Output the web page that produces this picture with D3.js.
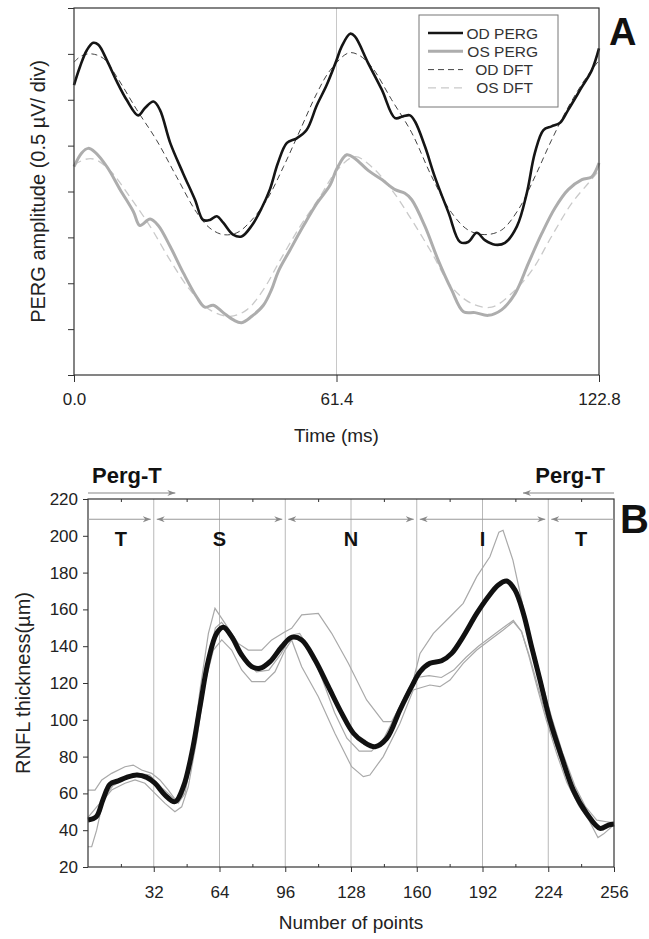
<!DOCTYPE html>
<html>
<head>
<meta charset="utf-8">
<script src="https://cdn.jsdelivr.net/npm/d3@7/dist/d3.min.js"></script>
<style>
  body { margin: 0; background: #fff; }
  svg { display: block; font-family: "Liberation Sans", Arial, sans-serif; }
  .tick text { fill: #222; }
</style>
</head>
<body>
<svg id="chart" width="649" height="939"></svg>
<script>
// ---- panel A data : time (ms), amplitude (uV, 0.5 uV per division)
var xTicksA = [0, 61.4, 122.8];
var yDivsA = [0, 0.5, 1, 1.5, 2, 2.5, 3, 3.5, 4];

var odPerg = [[0,3.16],[1.4,3.36],[3.0,3.54],[4.5,3.62],[5.7,3.60],[7.7,3.43],[10.0,3.20],[12.3,3.00],[15.0,2.83],[16.6,2.91],[18.6,2.98],[20.1,2.89],[22.5,2.53],[25.5,2.20],[28.3,1.91],[30.2,1.69],[31.8,1.69],[33.4,1.73],[34.9,1.66],[37.2,1.53],[39.2,1.51],[41.6,1.63],[43.9,1.82],[45.8,2.02],[47.7,2.31],[49.8,2.53],[52.1,2.58],[54.4,2.67],[56.8,2.94],[59.1,3.16],[61.4,3.43],[62.6,3.58],[64.6,3.72],[65.7,3.69],[68.8,3.40],[72.0,3.11],[75.1,2.80],[77.0,2.82],[78.6,2.83],[79.8,2.76],[82.1,2.49],[84.4,2.16],[87.6,1.77],[90.3,1.45],[92.2,1.45],[94.2,1.55],[96.1,1.47],[98.5,1.42],[100.8,1.44],[103.6,1.62],[105.9,1.98],[107.8,2.42],[109.8,2.67],[111.7,2.71],[113.7,2.75],[115.6,2.89],[118.8,3.14],[121.1,3.32],[122.8,3.56]];
var osPerg = [[0,2.27],[1.8,2.42],[3.3,2.47],[4.9,2.43],[7.7,2.27],[10.8,2.02],[13.9,1.78],[15.4,1.63],[17.8,1.70],[19.7,1.63],[22.5,1.40],[25.6,1.11],[28.7,0.85],[30.6,0.74],[32.6,0.76],[34.9,0.68],[37.3,0.60],[39.2,0.57],[41.6,0.64],[44.3,0.76],[46.2,0.93],[47.8,1.13],[50.5,1.36],[53.6,1.62],[56.8,1.87],[59.9,2.07],[61.5,2.25],[63.8,2.40],[65.7,2.36],[68.8,2.23],[72.0,2.13],[75.1,2.02],[77.4,1.98],[79.0,1.91],[82.1,1.62],[85.2,1.25],[88.3,0.93],[91.1,0.69],[93.8,0.68],[96.9,0.65],[100.0,0.71],[103.2,0.89],[106.3,1.22],[109.4,1.54],[112.5,1.82],[115.6,2.02],[118.8,2.13],[121.1,2.16],[122.8,2.31]];
var odDft = [[0,3.41],[1.8,3.48],[4.1,3.50],[6.9,3.45],[10.0,3.25],[14.7,2.89],[19.3,2.56],[24.0,2.16],[28.7,1.77],[31.8,1.60],[34.9,1.53],[38.1,1.55],[41.2,1.67],[45.1,1.91],[49.0,2.27],[52.9,2.67],[56.8,3.07],[59.9,3.32],[64.2,3.51],[66.5,3.49],[69.6,3.36],[74.3,3.00],[79.0,2.64],[83.7,2.16],[88.3,1.77],[92.2,1.58],[96.1,1.53],[100.0,1.58],[103.9,1.80],[107.8,2.16],[111.7,2.56],[115.6,2.92],[119.5,3.22],[122.8,3.43]];
var osDft = [[0,2.29],[2.6,2.35],[4.9,2.35],[8.4,2.23],[13.1,1.94],[17.8,1.62],[22.5,1.25],[27.1,0.93],[31.8,0.71],[36.5,0.64],[40.4,0.71],[44.3,0.93],[48.2,1.25],[52.9,1.62],[57.5,1.94],[61.5,2.23],[65.7,2.38],[69.6,2.27],[74.3,2.02],[79.0,1.69],[83.7,1.33],[88.3,0.96],[93.0,0.78],[97.7,0.74],[102.4,0.89],[107.1,1.14],[111.7,1.51],[116.4,1.87],[120.3,2.09],[122.8,2.23]];
var legendNames = ["OD PERG", "OS PERG", "OD DFT", "OS DFT"];

// ---- panel B data : point number, RNFL thickness (um)
var xTicksB = [32, 64, 96, 128, 160, 192, 224, 256];
var xMinorB = [16, 48, 80, 112, 144, 176, 208, 240];
var yTicksB = [20, 40, 60, 80, 100, 120, 140, 160, 180, 200, 220];
var regionNames = ["T", "S", "N", "I", "T"];
var regionBounds = [0, 32, 96, 160, 224, 256];
var regionCenters = [16, 64, 128, 192, 240];
var pergT = [[0, 42.5], [256, 211.7]];

var rnfl = [[0,45.5],[4,47.3],[7.4,57],[10.7,65],[14.7,66.8],[18.8,68.7],[23.7,70.0],[28.6,68.7],[32.6,65.5],[37.5,59.1],[42.3,55.5],[46.4,63.6],[50.5,81.8],[54.5,107.1],[58.6,132.5],[62.6,147.0],[65.9,150.3],[69.9,145.2],[74.8,135.2],[79.7,128.9],[83.7,128.0],[88.6,131.6],[94.3,139.7],[99.1,144.8],[104,143.4],[110.5,132.5],[117,118],[123.5,103.5],[129.2,92.7],[134,88.1],[139.7,85.4],[145.4,89.9],[151.8,105.3],[157.5,118],[161.6,126.1],[166.4,130.7],[172.1,132.1],[177,136.1],[182.6,145.2],[189.2,157.8],[194.8,166.9],[199.7,173.3],[203.8,175.4],[207.8,170.5],[211.9,157.8],[215.9,139.7],[220,121.6],[224.8,99.9],[230.5,79.9],[236.2,61.8],[242.7,49.1],[249.2,41],[253.2,42.8],[256,43.4]];
var rnflHi = [[0,61.8],[3.4,61.8],[6.7,67.3],[11.5,70.9],[18,74.5],[22,75.4],[26.1,72.7],[31,70.9],[35,67.3],[39.1,61.8],[43.9,54.6],[47.2,60],[50.5,80],[54.5,116.2],[58.6,147],[61.8,160.6],[66.7,152.4],[73.1,141.5],[78,137.9],[84.5,137.9],[89.4,143.4],[95.9,147.9],[99.1,149.7],[104,157],[112.1,157.8],[118.6,147],[126.7,130.7],[135.6,110.8],[143.7,99],[147.8,99],[153.5,110.8],[158.3,121.6],[161.6,136.1],[168.1,147],[176.2,156],[182.6,163.3],[189.2,177.8],[195.6,188.6],[200,202],[202,203],[206.8,186.8],[210,170.5],[213,155],[217,138],[221,120],[226,100],[231,82],[237,64],[242,53],[247.6,45.5],[252.4,44.6],[256,44]];
var rnflLo = [[0,31],[1.8,31],[4.2,40],[7.4,56.4],[11.5,61.8],[18,65.5],[22.9,67.3],[27.7,65.5],[32.6,60],[37.5,54.6],[42.3,50],[45.6,52.7],[48.8,63.6],[52.9,89],[56.9,119.8],[61,137.9],[65.1,143.4],[69.9,137.9],[74.8,127.1],[79.7,120.7],[86.1,120.7],[91,126.1],[95.9,137.9],[99.1,143.4],[104,128.8],[112.1,112.5],[120.2,92.6],[128.3,74.5],[134,69.1],[137.2,70],[143.7,80],[151.8,98],[158.3,116.2],[166.4,118.9],[171.3,118],[176.2,121.6],[182.6,130.7],[189.2,137.9],[195.6,143.4],[202.1,148.8],[207,153.3],[211,147.9],[214.5,135],[218.5,118],[223,100],[228,82],[233,66],[239,53],[244,45],[248.2,36],[251,38],[256,43]];
var rnflMid = [[0,47],[6,55],[12,64],[18,68],[24,71],[30,70],[36,63],[42,57],[46,58],[50,75],[54,103],[58,130],[62,150],[65,153],[70,146],[76,133],[82,126],[88,127],[94,136],[99,146],[103,147],[108,138],[114,122],[120,104],[126,90],[132,83],[138,83],[144,90],[150,103],[156,117],[160,123],[166,124],[172,123],[178,127],[184,134],[190,140],[196,145],[202,150],[207,154],[211,148],[215,134],[219,118],[224,98],[230,78],[236,61],[242,50],[248,42],[252,41],[256,43]];

var svg = d3.select("#chart");
var axisCol = "#333";

svg.append("defs").append("marker")
   .attr("id", "arr")
   .attr("markerUnits", "userSpaceOnUse")
   .attr("markerWidth", 10).attr("markerHeight", 8)
   .attr("refX", 8).attr("refY", 3)
   .attr("orient", "auto-start-reverse")
   .append("path")
   .attr("d", "M0,0 L8,3 L0,6 L2.5,3 Z")
   .attr("fill", "#888");

// ================= Panel A =================
var xA = d3.scaleLinear().domain([0, 122.8]).range([74, 599]);
var yA = d3.scaleLinear().domain([0, 4]).range([375, 8]);

var gA = svg.append("g");

// vertical guide at 61.4
gA.append("line")
  .attr("x1", xA(61.4)).attr("x2", xA(61.4))
  .attr("y1", yA(4)).attr("y2", yA(0))
  .attr("stroke", "#c8c8c8").attr("stroke-width", 1);

var lineA = d3.line()
  .x(d => xA(d[0]))
  .y(d => yA(d[1]))
  .curve(d3.curveCatmullRom);

gA.append("path").datum(osDft).attr("d", lineA)
  .attr("fill", "none").attr("stroke", "#c9c9c9").attr("stroke-width", 1.3).attr("stroke-dasharray", "8,5");
gA.append("path").datum(osPerg).attr("d", lineA)
  .attr("fill", "none").attr("stroke", "#adadad").attr("stroke-width", 3);
gA.append("path").datum(odDft).attr("d", lineA)
  .attr("fill", "none").attr("stroke", "#444").attr("stroke-width", 1).attr("stroke-dasharray", "6,4");
gA.append("path").datum(odPerg).attr("d", lineA)
  .attr("fill", "none").attr("stroke", "#151515").attr("stroke-width", 2.6);

// frame
gA.append("rect")
  .attr("x", xA(0)).attr("y", yA(4))
  .attr("width", xA(122.8) - xA(0)).attr("height", yA(0) - yA(4))
  .attr("fill", "none").attr("stroke", axisCol).attr("stroke-width", 1.2);

var axA_y = gA.append("g")
  .attr("transform", `translate(${xA(0)},0)`)
  .call(d3.axisLeft(yA).tickValues(yDivsA).tickFormat("").tickSize(6).tickSizeOuter(0));
var axA_x = gA.append("g")
  .attr("transform", `translate(0,${yA(0)})`)
  .call(d3.axisBottom(xA).tickValues(xTicksA).tickFormat(d3.format(".1f")).tickSize(7).tickPadding(11).tickSizeOuter(0));
[axA_x, axA_y].forEach(a => {
  a.select(".domain").remove();
  a.selectAll(".tick line").attr("stroke", axisCol);
});
axA_x.selectAll("text").style("font-size", "17px");

gA.append("text")
  .attr("x", xA(61.4)).attr("y", 442)
  .attr("text-anchor", "middle")
  .style("font-size", "19px").attr("fill", "#222")
  .text("Time (ms)");

gA.append("text")
  .attr("transform", `translate(45,${yA(2)}) rotate(-90)`)
  .attr("text-anchor", "middle")
  .style("font-size", "20px").attr("fill", "#222")
  .text("PERG amplitude (0.5 \u00B5V/ div)");

// legend
var leg = gA.append("g");
leg.append("rect")
   .attr("x", 419).attr("y", 15).attr("width", 139).attr("height", 92)
   .attr("fill", "#fff").attr("stroke", "#777").attr("stroke-width", 1);
var legStyle = [
  {c: "#151515", w: 2.6, dash: null},
  {c: "#adadad", w: 3, dash: null},
  {c: "#444", w: 1, dash: "6,4"},
  {c: "#c9c9c9", w: 1.3, dash: "8,5"}
];
legendNames.forEach(function(name, i) {
  var yy = 33 + i * 18.3;
  leg.append("line")
     .attr("x1", 428).attr("x2", 463).attr("y1", yy).attr("y2", yy)
     .attr("stroke", legStyle[i].c).attr("stroke-width", legStyle[i].w)
     .attr("stroke-dasharray", legStyle[i].dash);
  leg.append("text")
     .attr("x", i < 2 ? 538 : 533).attr("y", yy + 5.5)
     .attr("text-anchor", "end")
     .style("font-size", "15.5px").attr("fill", "#333")
     .text(name);
});

gA.append("text")
  .attr("x", 609).attr("y", 45)
  .style("font-size", "38px").style("font-weight", "bold").attr("fill", "#111")
  .text("A");

// ================= Panel B =================
var xB = d3.scaleLinear().domain([0, 256]).range([88, 614]);
var yB = d3.scaleLinear().domain([20, 220]).range([867, 499]);

var gB = svg.append("g");

// vertical gridlines at sector boundaries / centres
gB.selectAll(".vgrid")
  .data(xTicksB.slice(0, -1))
  .enter().append("line")
  .attr("class", "vgrid")
  .attr("x1", d => xB(d)).attr("x2", d => xB(d))
  .attr("y1", yB(220)).attr("y2", yB(20))
  .attr("stroke", "#b8b8b8").attr("stroke-width", 1);

var lineB = d3.line()
  .x(d => xB(d[0]))
  .y(d => yB(d[1]));

[rnflHi, rnflMid, rnflLo].forEach(function(s) {
  gB.append("path").datum(s).attr("d", lineB.curve(d3.curveLinear))
    .attr("fill", "none").attr("stroke", "#a9a9a9").attr("stroke-width", 1.2);
});
gB.append("path").datum(rnfl).attr("d", lineB.curve(d3.curveCatmullRom))
  .attr("fill", "none").attr("stroke", "#111").attr("stroke-width", 5)
  .attr("stroke-linejoin", "round");

gB.append("rect")
  .attr("x", xB(0)).attr("y", yB(220))
  .attr("width", xB(256) - xB(0)).attr("height", yB(20) - yB(220))
  .attr("fill", "none").attr("stroke", axisCol).attr("stroke-width", 1.2);

var axB_y = gB.append("g")
  .attr("transform", `translate(${xB(0)},0)`)
  .call(d3.axisLeft(yB).tickValues(yTicksB).tickSize(5).tickPadding(5).tickSizeOuter(0));
var axB_x = gB.append("g")
  .attr("transform", `translate(0,${yB(20)})`)
  .call(d3.axisBottom(xB).tickValues(xTicksB).tickSize(5).tickPadding(14).tickSizeOuter(0));
var axB_xm = gB.append("g")
  .attr("transform", `translate(0,${yB(20)})`)
  .call(d3.axisBottom(xB).tickValues(xMinorB).tickFormat("").tickSize(-3).tickSizeOuter(0));
var axB_top = gB.append("g")
  .attr("transform", `translate(0,${yB(220)})`)
  .call(d3.axisTop(xB).tickValues(xMinorB).tickFormat("").tickSize(-3).tickSizeOuter(0));
[axB_y, axB_x, axB_xm, axB_top].forEach(a => {
  a.select(".domain").remove();
  a.selectAll(".tick line").attr("stroke", axisCol);
});
axB_y.selectAll("text").style("font-size", "17px");
axB_x.selectAll("text").style("font-size", "17px");

gB.append("text")
  .attr("x", xB(128)).attr("y", 929)
  .attr("text-anchor", "middle")
  .style("font-size", "19px").attr("fill", "#222")
  .text("Number of points");

gB.append("text")
  .attr("transform", `translate(30,${yB(120)}) rotate(-90)`)
  .attr("text-anchor", "middle")
  .style("font-size", "20px").attr("fill", "#222")
  .text("RNFL thickness(\u00B5m)");

// sector arrows and labels
var arrowY = yB(209);
regionNames.forEach(function(name, i) {
  var a = regionBounds[i], b = regionBounds[i + 1];
  var x1 = xB(a) + (a === 0 ? 0 : 3);
  var x2 = xB(b) - (b === 256 ? 0 : 3);
  gB.append("line")
    .attr("x1", x1).attr("x2", x2).attr("y1", arrowY).attr("y2", arrowY)
    .attr("stroke", "#999").attr("stroke-width", 1.2)
    .attr("marker-start", a === 0 ? null : "url(#arr)")
    .attr("marker-end", b === 256 ? null : "url(#arr)");
  gB.append("text")
    .attr("x", xB(regionCenters[i])).attr("y", 546)
    .attr("text-anchor", "middle")
    .style("font-size", "20px").style("font-weight", "bold").attr("fill", "#111")
    .text(name);
});

// Perg-T arrows above the plot
var pergY = yB(220) - 6;
pergT.forEach(function(p, i) {
  gB.append("line")
    .attr("x1", xB(p[0])).attr("x2", xB(p[1]))
    .attr("y1", pergY).attr("y2", pergY)
    .attr("stroke", "#888").attr("stroke-width", 1.2)
    .attr("marker-end", "url(#arr)");
  gB.append("text")
    .attr("x", i === 0 ? xB(p[0]) + 4 : xB(p[0]) - 9)
    .attr("y", 483)
    .attr("text-anchor", i === 0 ? "start" : "end")
    .style("font-size", "22px").style("font-weight", "bold").attr("fill", "#111")
    .text("Perg-T");
});

// panel letter, kept inside the page edge
gB.append("text")
  .attr("x", 620).attr("y", 533)
  .style("font-size", "40px").style("font-weight", "bold").attr("fill", "#111")
  .text("B");
</script>
</body>
</html>
